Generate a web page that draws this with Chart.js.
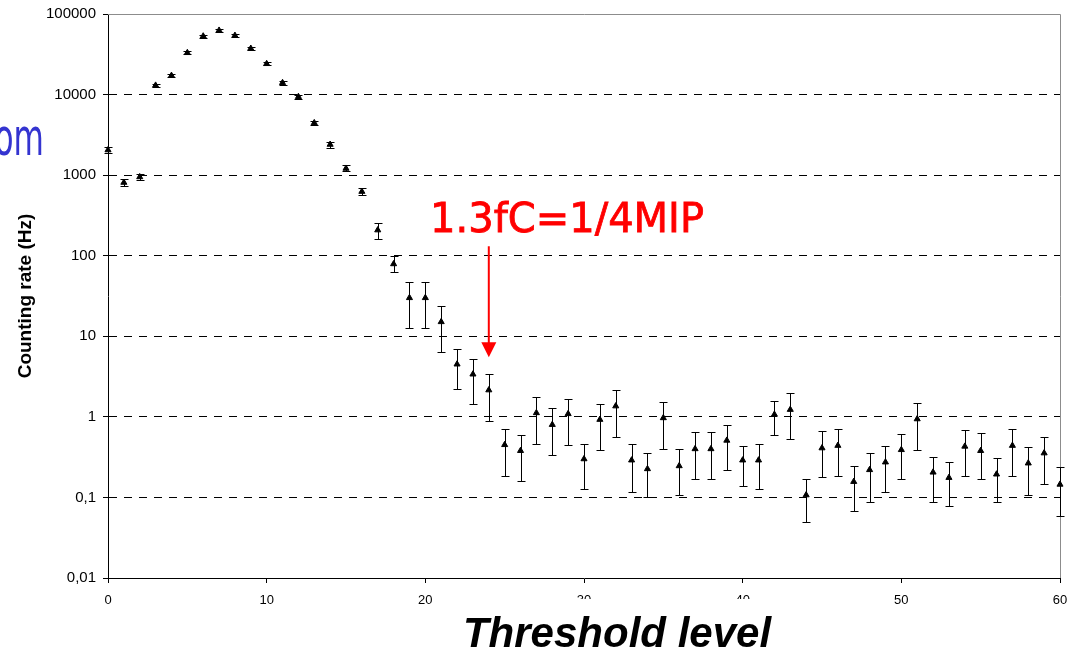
<!DOCTYPE html>
<html>
<head>
<meta charset="utf-8">
<script src="https://cdn.jsdelivr.net/npm/chart.js@4.4.0/dist/chart.umd.min.js"></script>
<style>
  html, body { margin: 0; padding: 0; background: #fff; }
  #wrap { width: 1074px; height: 652px; }
</style>
</head>
<body>
<div id="wrap"><canvas id="rateChart" width="1074" height="652"></canvas></div>
<script>
// threshold levels and measured counting rates (Hz)
const thresholds = [0,1,2,3,4,5,6,7,8,9,10,11,12,13,14,15,16,17,18,19,20,
  21,22,23,24,25,26,27,28,29,30,31,32,33,34,35,36,37,38,39,40,
  41,42,43,44,45,46,47,48,49,50,51,52,53,54,55,56,57,58,59,60];
const rates = [2050,810,950,13000,17200,33000,53000,62500,54000,37300,24100,
  14000,9400,4450,2400,1210,625,208,79,30,30,
  15.1,4.5,3.38,2.15,0.45,0.38,1.12,0.80,1.09,0.30,
  0.925,1.36,0.29,0.226,0.97,0.246,0.40,0.40,0.51,0.29,
  0.29,1.07,1.23,0.107,0.41,0.44,0.157,0.22,0.274,0.39,
  0.94,0.205,0.176,0.43,0.38,0.194,0.44,0.266,0.355,0.145];
const rateLow = [1870,730,870,12400,16500,31800,51000,60000,52000,36000,23000,
  13300,8900,4150,2200,1110,560,160,62,12.5,12.5,
  6.4,2.24,1.43,0.9,0.186,0.16,0.46,0.34,0.45,0.127,
  0.39,0.56,0.117,0.1,0.40,0.107,0.168,0.168,0.22,0.139,
  0.127,0.589,0.53,0.049,0.178,0.186,0.068,0.088,0.117,0.168,
  0.39,0.088,0.078,0.186,0.168,0.088,0.186,0.107,0.145,0.059];
const rateHigh = [2250,900,1040,13600,18000,34300,55000,65000,56000,38700,25200,
  14700,9900,4750,2600,1320,700,257,100,47,47,
  23.9,6.9,5.3,3.45,0.714,0.589,1.76,1.27,1.68,0.46,
  1.43,2.15,0.46,0.36,1.54,0.40,0.65,0.65,0.80,0.44,
  0.46,1.57,2.0,0.168,0.66,0.714,0.246,0.355,0.44,0.61,
  1.5,0.32,0.274,0.69,0.63,0.31,0.714,0.42,0.556,0.237];

const xTickValues = [0, 10, 20, 30, 40, 50, 60];
const yTickValues = [0.01, 0.1, 1, 10, 100, 1000, 10000, 100000];
const yTickLabels = ['0,01', '0,1', '1', '10', '100', '1000', '10000', '100000'];

// annotation: text and arrow pointing at threshold 24
const noteText = '1.3fC=1/4MIP';
const noteX = 20.3, noteY = 196;
const arrowX = 24, arrowFrom = 131, arrowTo = 5.5;

const FONT = '"Liberation Sans", Arial, Helvetica, sans-serif';

// vertical error bars with caps, under the markers
const errorBars = {
  id: 'errorBars',
  beforeDatasetsDraw(chart) {
    const {ctx, chartArea, scales: {x, y}} = chart;
    ctx.save();
    // grey frame on top and right
    ctx.strokeStyle = '#8c8c8c';
    ctx.lineWidth = 1;
    ctx.beginPath();
    ctx.moveTo(chartArea.left, chartArea.top + 0.5);
    ctx.lineTo(chartArea.right + 0.5, chartArea.top + 0.5);
    ctx.lineTo(chartArea.right + 0.5, chartArea.bottom);
    ctx.stroke();

    ctx.strokeStyle = '#000';
    thresholds.forEach((t, i) => {
      const px = Math.round(x.getPixelForValue(t)) + 0.5;
      const top = Math.round(y.getPixelForValue(rateHigh[i])) + 0.5;
      const bot = Math.round(y.getPixelForValue(rateLow[i])) + 0.5;
      ctx.beginPath();
      ctx.moveTo(px, top); ctx.lineTo(px, bot);
      ctx.moveTo(px - 4, top); ctx.lineTo(px + 4, top);
      ctx.moveTo(px - 4, bot); ctx.lineTo(px + 4, bot);
      ctx.stroke();
    });
    ctx.restore();
  }
};

const extras = {
  id: 'extras',
  afterDraw(chart) {
    const {ctx, chartArea, scales: {x, y}} = chart;
    ctx.save();

    // red note + arrow
    ctx.fillStyle = '#ff0000';
    ctx.strokeStyle = '#ff0000';
    ctx.font = '40px "DejaVu Sans", sans-serif';
    ctx.textAlign = 'left';
    ctx.textBaseline = 'alphabetic';
    ctx.lineWidth = 0.8;
    const nx = x.getPixelForValue(noteX), ny = y.getPixelForValue(noteY);
    ctx.fillText(noteText, nx, ny);
    ctx.strokeText(noteText, nx, ny);

    const ax = x.getPixelForValue(arrowX);
    const ay1 = y.getPixelForValue(arrowFrom);
    const ay2 = y.getPixelForValue(arrowTo);
    ctx.lineWidth = 2;
    ctx.beginPath();
    ctx.moveTo(ax, ay1);
    ctx.lineTo(ax, ay2 - 14);
    ctx.stroke();
    ctx.beginPath();
    ctx.moveTo(ax - 7.5, ay2 - 15);
    ctx.lineTo(ax + 7.5, ay2 - 15);
    ctx.lineTo(ax, ay2);
    ctx.closePath();
    ctx.fill();

    // blue fragment of slide text on the left
    ctx.save();
    ctx.translate(44, 155);
    ctx.scale(0.6, 1);
    ctx.fillStyle = '#3434d0';
    ctx.font = '52px "DejaVu Sans", sans-serif';
    ctx.textAlign = 'right';
    ctx.fillText('om', 0, 0);
    ctx.restore();

    // x axis title, with white box over the ticks below it
    const title = 'Threshold level';
    ctx.font = 'italic bold 42px ' + FONT;
    const w = ctx.measureText(title).width;
    const tx = (chartArea.left + chartArea.right) / 2 + 33;
    ctx.fillStyle = '#fff';
    ctx.fillRect(tx - w / 2 - 12, chartArea.bottom + 21, w + 24, chart.height - chartArea.bottom - 21);
    ctx.fillStyle = '#000';
    ctx.textAlign = 'center';
    ctx.fillText(title, tx, chartArea.bottom + 69);

    ctx.restore();
  }
};

const ctx = document.getElementById('rateChart').getContext('2d');
const chart = new Chart(ctx, {
  type: 'scatter',
  data: {
    datasets: [{
      label: 'Counting rate',
      data: thresholds.map((t, i) => ({x: t, y: rates[i]})),
      pointStyle: 'triangle',
      pointRadius: 3.5,
      backgroundColor: '#000',
      borderColor: '#000',
      borderWidth: 1,
      showLine: false,
      clip: false
    }]
  },
  options: {
    responsive: false,
    animation: false,
    layout: { padding: { top: 14, right: 14, left: 0, bottom: 0 } },
    plugins: { legend: { display: false }, tooltip: { enabled: false } },
    scales: {
      x: {
        type: 'linear',
        min: 0,
        max: 60,
        afterBuildTicks: s => { s.ticks = xTickValues.map(v => ({value: v})); },
        afterFit: s => { s.height = 74; s.paddingLeft = 0; s.paddingRight = 0; },
        grid: { drawOnChartArea: false, tickLength: 5, tickColor: '#000' },
        border: { color: '#000', width: 1 },
        ticks: { color: '#000', font: { family: FONT, size: 13 }, padding: 10, maxRotation: 0 }
      },
      y: {
        type: 'logarithmic',
        min: 0.01,
        max: 100000,
        afterBuildTicks: s => { s.ticks = yTickValues.map(v => ({value: v})); },
        afterFit: s => { s.width = 108; s.paddingTop = 0; s.paddingBottom = 0; },
        grid: {
          color: c => (c.tick && (c.tick.value === 0.01 || c.tick.value === 100000)) ? 'rgba(0,0,0,0)' : '#000',
          tickLength: 5,
          tickColor: '#000'
        },
        border: { color: '#000', width: 1, dash: [8, 7] },
        ticks: {
          color: '#000',
          font: { family: FONT, size: 15 },
          padding: 7,
          callback: v => yTickLabels[yTickValues.indexOf(v)]
        },
        title: {
          display: true,
          text: 'Counting rate (Hz)',
          color: '#000',
          font: { family: FONT, size: 19, weight: 'bold' },
          padding: { top: 14, bottom: 0 }
        }
      }
    }
  },
  plugins: [errorBars, extras]
});
</script>
</body>
</html>
